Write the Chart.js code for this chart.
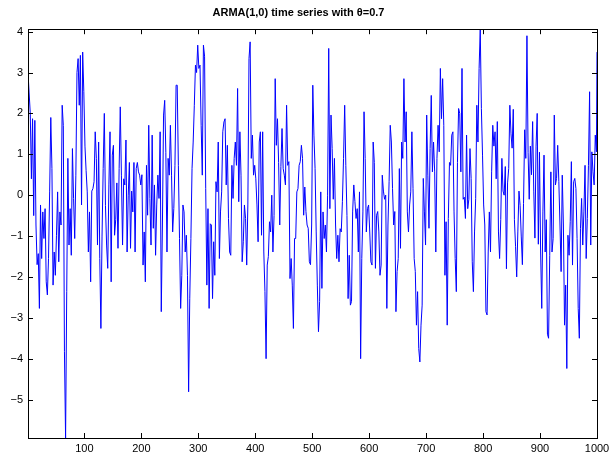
<!DOCTYPE html>
<html>
<head>
<meta charset="utf-8">
<script src="https://cdn.jsdelivr.net/npm/chart.js@4.4.1/dist/chart.umd.min.js"></script>
<style>
  html, body { margin: 0; padding: 0; background: #fff; }
  canvas { display: block; }
</style>
</head>
<body>
<canvas id="arma" width="614" height="458"></canvas>
<script>
// series: one value every second step (t = 1, 3, 5 ... 99 per block), last point t = 1000
var block1 = [3.0, 2.5, 2.0, 0.4, 1.87, -0.5, 1.83, -0.73, -1.7, -1.43, -2.77, -0.24, -1.55, -0.41, -1.06, -0.33, -2.12, -2.44, -1.55, 0.08, 1.9, 0.65, -2.2, -1.39, -1.96, -0.98, 0.08, -1.63, -0.41, -0.73, 2.2, 1.7, -3.83, -5.94, -2.36, 0.9, -1.22, -0.33, -1.47, 1.14, -0.08, -1.06, 0.49, 3.0, 3.34, 2.2, 3.42, -0.24, 3.5, 2.53];
var block2 = [1.2, 0.6, 0.08, -1.39, -0.41, -2.12, 0.1, 0.16, 0.33, 1.55, 0.9, -1.22, 1.3, -1.55, -3.26, -1.0, 0.65, 2.0, -0.25, -1.22, -1.79, 0.25, 1.55, -2.12, 0.98, 1.22, -0.98, -0.6, 0.3, -1.3, 0.65, 2.16, 0.49, -1.22, 0.4, 0.25, 1.35, -1.39, 0.0, 0.8, -1.3, 0.1, -0.41, 0.8, -1.39, 0.65, 0.8, 0.57, 0.49, 0.25];
var block3 = [0.5, -1.71, -0.9, -2.12, 0.73, -0.49, 1.71, -0.08, -1.22, 1.47, -0.81, 0.25, -1.47, -0.24, 0.49, -0.08, 1.55, -2.85, -0.73, 1.96, 2.32, 1.05, -1.39, 0.9, 0.49, 1.71, 0.49, -0.9, -0.33, 0.73, 2.69, 2.69, 0.73, -1.06, -2.77, -1.96, -0.24, -0.41, -1.39, -0.98, -1.96, -4.81, -2.52, -1.06, 0.65, 1.3, 2.2, 3.18, 3.0, 3.67];
var block4 = [3.1, 3.18, 1.71, 0.49, 3.67, 3.4, 0.16, -2.2, -0.33, -2.77, -0.7, -0.73, -2.53, -1.14, -1.96, 0.33, 0.08, 1.3, -1.55, -0.41, 0.08, 1.55, 1.79, 1.87, 0.25, 1.22, -0.57, -1.39, -1.47, 0.73, -0.08, 0.9, 1.3, 0.73, 2.61, -0.16, 1.55, 0.49, -1.63, -1.14, -0.24, -0.57, -1.71, -0.24, 3.34, 3.75, 0.9, 1.47, 0.49, 0.73];
var block5 = [0.4, -0.24, -1.14, 1.3, 1.55, -0.98, 1.55, -1.39, -2.36, -4.0, -1.71, -1.5, -0.65, -0.9, 0.0, -1.39, -0.5, 2.85, 1.22, 1.87, 0.8, -0.73, 0.7, 1.63, 0.65, 0.49, 0.25, 2.2, 0.73, 0.82, -2.04, -1.55, -2.2, -3.26, -1.06, -1.06, 0.08, 0.16, 0.73, 0.82, 1.22, 0.9, -0.49, 0.2, -0.4, -0.73, -0.81, -1.63, -1.7, -0.73];
var block6 = [2.69, 1.47, 0.65, -0.9, -2.2, -3.34, -2.6, 0.08, -2.28, -0.41, -1.06, -0.73, -1.39, 0.0, 3.59, -0.33, 1.96, 1.14, -0.1, 0.9, -0.73, -1.55, -0.98, -1.63, -0.82, -0.9, -0.16, 0.9, 2.2, 0.73, -0.5, -2.53, -1.47, -2.69, -2.6, -0.41, 0.25, -0.16, -0.57, -0.33, -1.39, 0.08, -4.0, -1.55, -0.41, 2.04, 0.9, -0.9, -0.33, -0.24];
var block7 = [-0.9, -1.63, -1.71, 1.3, 0.8, -1.79, -0.49, -0.4, -0.9, -1.96, -1.71, 0.49, 0.1, -0.1, 0.0, -2.77, -0.73, 0.33, 1.71, 1.3, 0.16, -0.73, -0.4, -2.85, -1.87, -1.55, 0.65, -1.3, 1.3, 0.9, 2.85, 1.3, 2.04, -0.41, -0.9, -0.24, 0.08, 1.55, 0.16, -1.55, -1.87, -3.18, -2.36, -3.75, -4.08, -3.18, -2.69, 0.41, -0.41, -1.22];
var block8 = [1.96, 0.49, -0.81, 1.14, 2.44, 0.57, 1.3, 0.57, -1.39, 0.9, 1.71, 1.06, 3.1, 1.87, 2.85, 1.71, -1.96, -0.65, -3.18, -0.57, 0.8, 0.73, 1.47, 1.55, -0.41, -1.55, -2.36, 0.8, 2.12, 2.0, 0.57, 3.1, -0.1, -0.05, -0.57, 1.47, -0.33, -0.1, 1.14, 0.41, -1.63, -2.36, -0.9, -0.08, 2.2, 1.3, 3.1, 4.06, 2.12, 0.98];
var block9 = [-0.24, -0.73, -2.85, -2.93, -1.39, -0.41, -1.39, 0.57, 1.71, 1.2, 1.55, 0.4, 1.8, -0.9, -1.55, -0.6, 0.9, 0.1, 0.0, 0.7, -1.8, 0.3, 0.65, 2.2, 1.5, 1.15, 2.1, -0.6, -1.25, -2.0, -0.9, 0.1, -0.25, -1.0, -1.7, -0.2, 1.6, 0.9, 3.9, 1.05, -0.1, 1.2, 0.5, 1.8, 0.1, -1.05, 1.2, 2.0, -1.2, 1.05];
var block10 = [-1.39, -2.77, -0.41, 0.98, -1.39, -0.6, -3.4, -3.5, -1.47, 0.57, -1.39, -1.06, 1.96, 0.25, 0.41, 1.22, 0.33, -0.73, -1.87, 0.49, -0.73, -3.18, -2.2, -4.24, -0.98, -1.47, -0.65, 0.82, -1.71, 0.33, 0.41, 0.16, -1.06, -2.77, -3.5, -0.81, -0.08, -1.22, -0.41, 0.73, -1.55, -0.57, 0.73, 2.53, -1.22, 1.06, 0.57, 0.25, 1.47, 1.06];
var lastValue = 3.5;

var xTicks = [100, 200, 300, 400, 500, 600, 700, 800, 900, 1000];
var yTicks = [-5, -4, -3, -2, -1, 0, 1, 2, 3, 4];

var blocks = [block1, block2, block3, block4, block5, block6, block7, block8, block9, block10];
var points = [];
blocks.forEach(function (b, k) {
  b.forEach(function (v, i) {
    points.push({ x: 100 * k + 2 * i + 1, y: v });
  });
});
points.push({ x: 1000, y: lastValue });

// matlab style box with ticks pointing inwards
var boxTicks = {
  id: 'boxTicks',
  afterDatasetsDraw: function (chart) {
    var a = chart.chartArea, ctx = chart.ctx;
    var sx = chart.scales.x, sy = chart.scales.y;
    var len = 5;
    ctx.save();
    ctx.strokeStyle = '#000';
    ctx.lineWidth = 1;
    ctx.beginPath();
    sx.ticks.forEach(function (tk) {
      var px = Math.round(sx.getPixelForValue(tk.value)) + 0.5;
      ctx.moveTo(px, a.bottom); ctx.lineTo(px, a.bottom - len);
      ctx.moveTo(px, a.top); ctx.lineTo(px, a.top + len);
    });
    sy.ticks.forEach(function (tk) {
      var py = Math.round(sy.getPixelForValue(tk.value)) + 0.5;
      ctx.moveTo(a.left, py); ctx.lineTo(a.left + len, py);
      ctx.moveTo(a.right, py); ctx.lineTo(a.right - len, py);
    });
    ctx.stroke();
    ctx.strokeRect(Math.round(a.left) + 0.5, Math.round(a.top) + 0.5,
      Math.round(a.right - a.left), Math.round(a.bottom - a.top));
    ctx.restore();
  }
};

var tickFont = { family: 'Liberation Sans, Arial, Helvetica, sans-serif', size: 11 };

new Chart(document.getElementById('arma'), {
  type: 'line',
  data: {
    datasets: [{
      data: points,
      borderColor: '#0000ff',
      borderWidth: 1,
      pointRadius: 0,
      tension: 0,
      fill: false
    }]
  },
  options: {
    responsive: false,
    animation: false,
    devicePixelRatio: 1,
    layout: { padding: { left: 0, right: 17, top: 0, bottom: 0 } },
    plugins: {
      legend: { display: false },
      tooltip: { enabled: false },
      title: {
        display: true,
        text: 'ARMA(1,0) time series with \u03b8=0.7',
        color: '#000',
        font: { family: 'Liberation Sans, Arial, Helvetica, sans-serif', size: 11, weight: 'bold' },
        padding: { top: 6, bottom: 10 }
      }
    },
    scales: {
      x: {
        type: 'linear',
        min: 1,
        max: 1000,
        grid: { display: false, drawTicks: false },
        border: { display: false },
        afterBuildTicks: function (s) { s.ticks = xTicks.map(function (v) { return { value: v }; }); },
        afterFit: function (s) { s.height = 20; },
        ticks: {
          color: '#000',
          padding: 4,
          maxRotation: 0,
          autoSkip: false,
          font: tickFont,
          callback: function (v) { return String(v); }
        }
      },
      y: {
        min: -5.94,
        max: 4.06,
        grid: { display: false, drawTicks: false },
        border: { display: false },
        afterBuildTicks: function (s) { s.ticks = yTicks.map(function (v) { return { value: v }; }); },
        afterFit: function (s) { s.width = 28; },
        ticks: {
          color: '#000',
          padding: 5,
          autoSkip: false,
          font: tickFont,
          callback: function (v) { return v < 0 ? '\u2212' + Math.abs(v) : String(v); }
        }
      }
    }
  },
  plugins: [boxTicks]
});
</script>
</body>
</html>
